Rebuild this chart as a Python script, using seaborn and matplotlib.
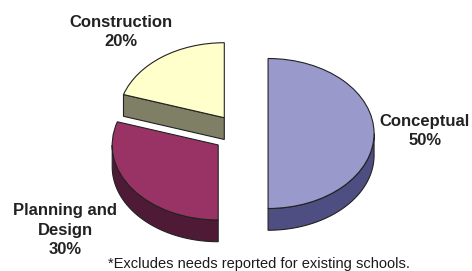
import numpy as np
import matplotlib
matplotlib.use('Agg')
import matplotlib.pyplot as plt
from matplotlib.patches import Polygon
import seaborn as sns

# data
categories = ['Conceptual', 'Planning and\nDesign', 'Construction']
shares = [50, 30, 20]
top_colors = ['#9999CC', '#993366', '#FFFFCC']
side_colors = ['#4E4E82', '#4F1A35', '#7F7F66']
label_pos = [(425, 131), (65, 230), (121, 32)]  # label centres, px
note = '*Excludes needs reported for existing schools.'

W, H = 472, 271
cx, cy = 240.5, 133.5   # pie centre in px
rx, ry = 106, 75        # px per unit radius
depth = 0.29            # slab thickness, radius units
explode = 0.26

sns.set_theme(style='white')
plt.rcParams['font.family'] = ['Liberation Sans', 'DejaVu Sans']

fig = plt.figure(figsize=(W / 100, H / 100), dpi=100)
ax = fig.add_axes([0, 0, 1, 1])

wedges, _ = ax.pie(shares, colors=top_colors, startangle=90, counterclock=False,
                   explode=[explode] * len(shares),
                   wedgeprops=dict(edgecolor='#222222', linewidth=0.8, zorder=3))

# side walls of the 3d slab
for w, sc in zip(wedges, side_colors):
    t1, t2 = w.theta1, w.theta2
    ox, oy = w.center
    # outer rim, only the front half (sin < 0) can be seen
    for k in range(-2, 3):
        lo, hi = max(t1, -180 + 360 * k), min(t2, 360 * k)
        if lo < hi:
            th = np.radians(np.linspace(lo, hi, 100))
            xs = ox + np.cos(th)
            ys = oy + np.sin(th)
            pts = np.r_[np.c_[xs, ys], np.c_[xs[::-1], ys[::-1] - depth]]
            ax.add_patch(Polygon(pts, closed=True, facecolor=sc,
                                 edgecolor='#222222', linewidth=0.8, zorder=1))
    # radial cut faces
    for phi, vis in ((t1, np.cos(np.radians(t1)) > 1e-6),
                     (t2, np.cos(np.radians(t2)) < -1e-6)):
        if vis:
            px, py = ox + np.cos(np.radians(phi)), oy + np.sin(np.radians(phi))
            pts = [(ox, oy), (px, py), (px, py - depth), (ox, oy - depth)]
            ax.add_patch(Polygon(pts, closed=True, facecolor=sc,
                                 edgecolor='#222222', linewidth=0.8, zorder=1))

ax.set_aspect('auto')
ax.set_xlim(-cx / rx, (W - cx) / rx)
ax.set_ylim(-(H - cy) / ry, cy / ry)
ax.axis('off')

for name, val, (lx, ly) in zip(categories, shares, label_pos):
    fig.text(lx / W, 1 - ly / H, f'{name}\n{val}%', ha='center', va='center',
             fontsize=12, fontweight='bold', linespacing=1.4, color='#222222')

fig.text(259 / W, 1 - 264 / H, note, ha='center', va='center', fontsize=10.5, color='#1a1a1a')

fig.savefig('out.png', dpi=100)
plt.close()
